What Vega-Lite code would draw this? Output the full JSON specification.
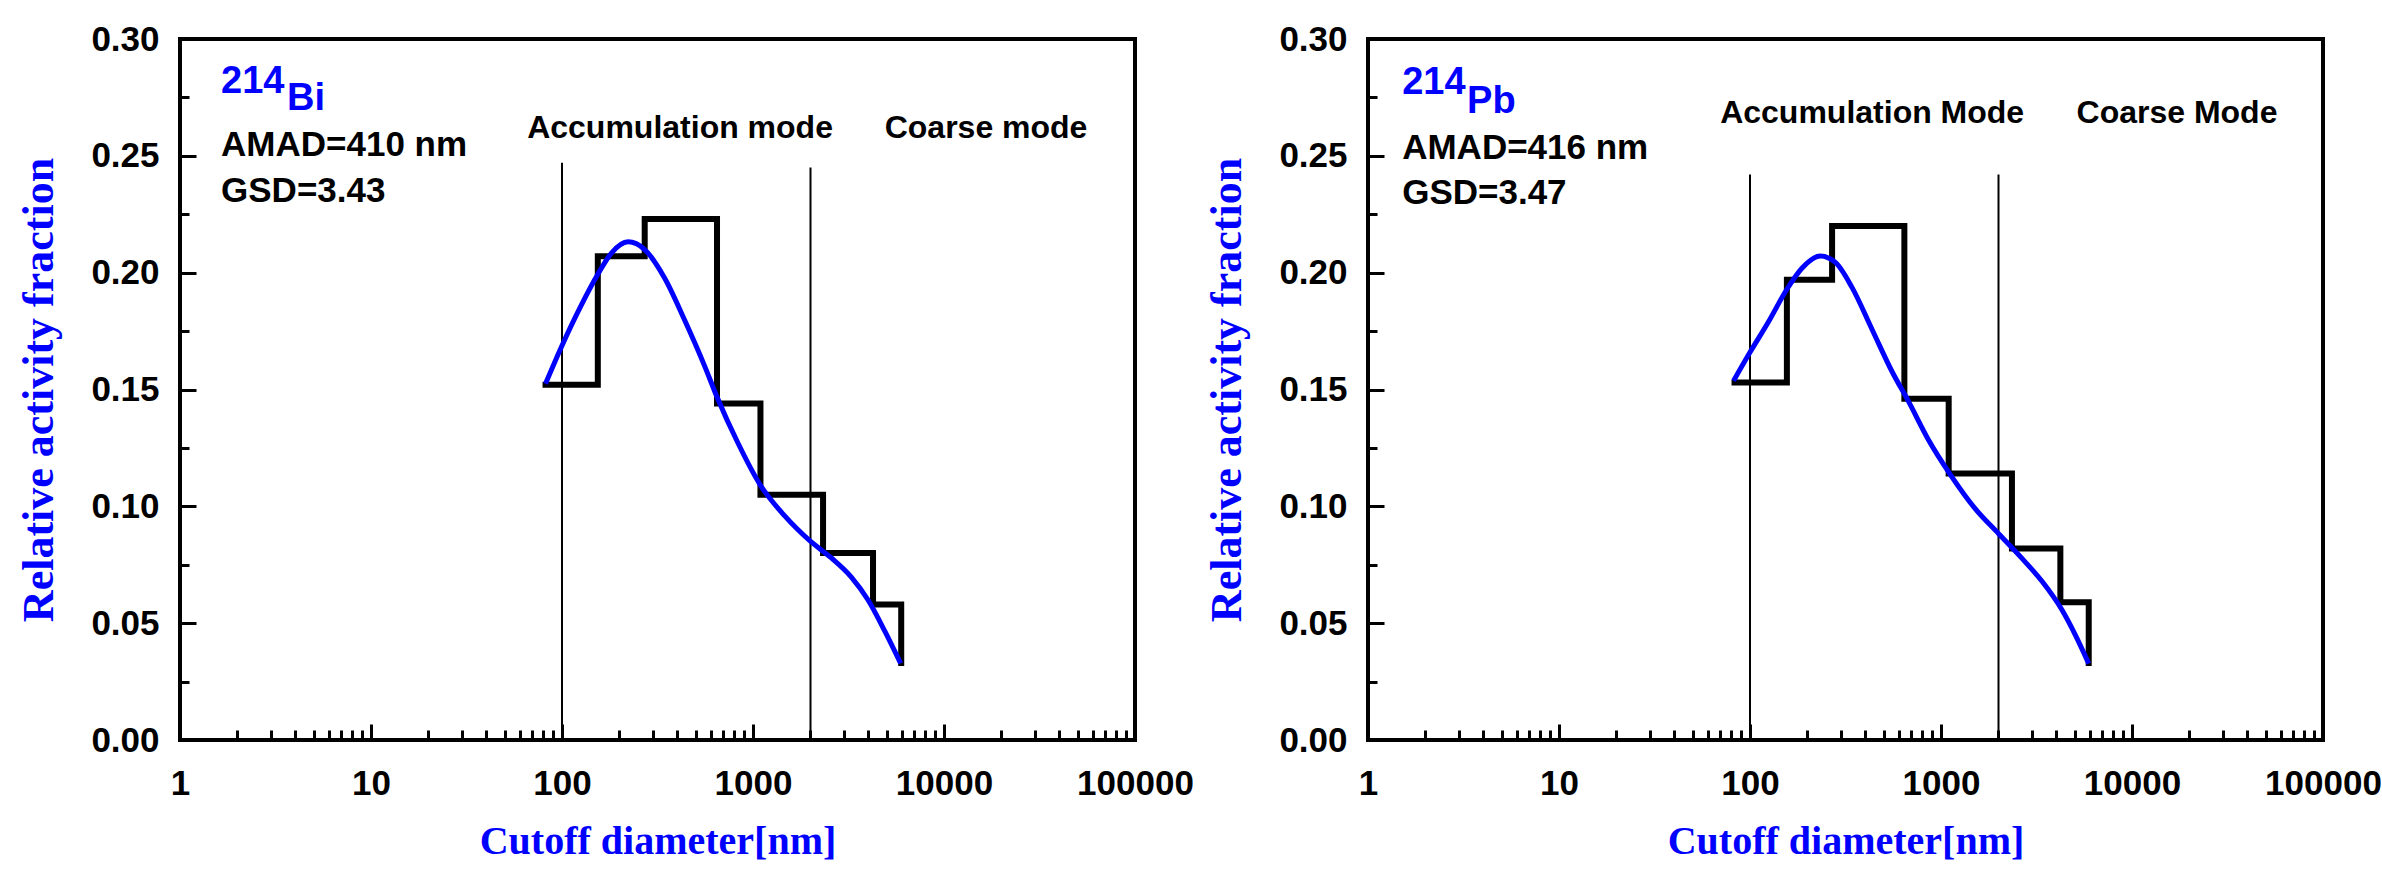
{
  "$schema": "https://vega.github.io/schema/vega-lite/v6.json",
  "padding": {"left": 15, "top": 20, "right": 5, "bottom": 5},
  "background": "white",
  "config": {
    "view": {"stroke": "black", "strokeWidth": 4},
    "axis": {"domain": false, "grid": false, "labelFont": "Liberation Sans", "labelFontWeight": "bold", "labelFontSize": 35, "labelColor": "black", "tickColor": "black", "tickWidth": 3, "titleFont": "Liberation Serif", "titleFontWeight": "bold", "titleColor": "#0000FF", "labelFlush": false, "labelOverlap": false, "labelBound": false},
    "text": {"font": "Liberation Sans", "fontWeight": "bold"}
  },
  "datasets": {
    "vl_bi": [{"x": 100, "y": 0, "y2": 0.247}, {"x": 2000, "y": 0, "y2": 0.245}],
    "step_bi": [{"x": 82, "y": 0.152}, {"x": 154, "y": 0.207}, {"x": 271, "y": 0.223}, {"x": 648, "y": 0.144}, {"x": 1094, "y": 0.105}, {"x": 2327, "y": 0.08}, {"x": 4250, "y": 0.058}, {"x": 5970, "y": 0.033}],
    "fit_bi": [{"x": 82, "y": 0.1525}, {"x": 99, "y": 0.168}, {"x": 126, "y": 0.186}, {"x": 154, "y": 0.1993}, {"x": 181, "y": 0.2083}, {"x": 222, "y": 0.2132}, {"x": 271, "y": 0.2099}, {"x": 345, "y": 0.1976}, {"x": 439, "y": 0.1796}, {"x": 559, "y": 0.1599}, {"x": 648, "y": 0.1468}, {"x": 834, "y": 0.1271}, {"x": 1094, "y": 0.109}, {"x": 1466, "y": 0.0959}, {"x": 1982, "y": 0.0853}, {"x": 2572, "y": 0.0779}, {"x": 3271, "y": 0.0697}, {"x": 4003, "y": 0.0599}, {"x": 4891, "y": 0.0467}, {"x": 5929, "y": 0.0328}],
    "iso_bi": [{"x": 1.64, "y": 0.2769, "label": "214"}, {"x": 3.63, "y": 0.2696, "label": "Bi"}],
    "info_bi": [{"x": 1.64, "y": 0.2499, "label": "AMAD=410 nm"}, {"x": 1.64, "y": 0.2302, "label": "GSD=3.43"}],
    "mode_bi": [{"x": 415, "y": 0.2576, "label": "Accumulation mode"}, {"x": 16600, "y": 0.2576, "label": "Coarse mode"}],
    "vl_pb": [{"x": 100, "y": 0, "y2": 0.242}, {"x": 2000, "y": 0, "y2": 0.242}],
    "step_pb": [{"x": 83, "y": 0.153}, {"x": 156, "y": 0.197}, {"x": 269, "y": 0.22}, {"x": 643, "y": 0.146}, {"x": 1097, "y": 0.114}, {"x": 2352, "y": 0.082}, {"x": 4216, "y": 0.059}, {"x": 5935, "y": 0.033}],
    "fit_pb": [{"x": 82, "y": 0.1537}, {"x": 100, "y": 0.1659}, {"x": 125, "y": 0.179}, {"x": 156, "y": 0.1929}, {"x": 187, "y": 0.2019}, {"x": 233, "y": 0.2071}, {"x": 280, "y": 0.2044}, {"x": 342, "y": 0.1937}, {"x": 435, "y": 0.1758}, {"x": 554, "y": 0.1577}, {"x": 678, "y": 0.1447}, {"x": 862, "y": 0.1283}, {"x": 1119, "y": 0.1136}, {"x": 1513, "y": 0.0989}, {"x": 2003, "y": 0.0883}, {"x": 2655, "y": 0.0777}, {"x": 3380, "y": 0.0679}, {"x": 4303, "y": 0.0556}, {"x": 5046, "y": 0.045}, {"x": 5935, "y": 0.0327}],
    "iso_pb": [{"x": 1.51, "y": 0.2765, "label": "214"}, {"x": 3.3, "y": 0.2683, "label": "Pb"}],
    "info_pb": [{"x": 1.51, "y": 0.2486, "label": "AMAD=416 nm"}, {"x": 1.51, "y": 0.2294, "label": "GSD=3.47"}],
    "mode_pb": [{"x": 436, "y": 0.264, "label": "Accumulation Mode"}, {"x": 17200, "y": 0.264, "label": "Coarse Mode"}]
  },
  "spacing": 7,
  "hconcat": [
    {
      "width": 955, "height": 701,
      "layer": [
        {"data": {"name": "vl_bi"}, "mark": {"type": "rule", "stroke": "black", "strokeWidth": 2},
         "encoding": {
           "x": {"field": "x", "type": "quantitative", "scale": {"type": "log", "domain": [1, 100000]},
                 "axis": {"title": "Cutoff diameter[nm]", "titleFontSize": 40, "values": [1,2,3,4,5,6,7,8,9,10,20,30,40,50,60,70,80,90,100,200,300,400,500,600,700,800,900,1000,2000,3000,4000,5000,6000,7000,8000,9000,10000,20000,30000,40000,50000,60000,70000,80000,90000,100000],
                          "labelExpr": "indexof([1,10,100,1000,10000,100000], datum.value) >= 0 ? format(datum.value, 'd') : ''",
                          "tickSize": {"condition": {"test": "indexof([1,10,100,1000,10000,100000], datum.value) >= 0", "value": -16}, "value": -10},
                          "labelPadding": 42, "titlePadding": 14}},
           "y": {"field": "y", "type": "quantitative", "scale": {"domain": [0, 0.3]},
                 "axis": {"title": "Relative activity fraction", "titleFontSize": 44, "values": [0,0.025,0.05,0.075,0.1,0.125,0.15,0.175,0.2,0.225,0.25,0.275,0.3],
                          "labelExpr": "round(datum.value*1000) % 50 == 0 ? format(datum.value, '.2f') : ''",
                          "tickSize": {"condition": {"test": "round(datum.value*1000) % 50 == 0", "value": -16}, "value": -9},
                          "labelPadding": 37, "titlePadding": 29}},
           "y2": {"field": "y2"}}},
        {"data": {"name": "step_bi"}, "mark": {"type": "line", "interpolate": "step-after", "stroke": "black", "strokeWidth": 6, "strokeJoin": "miter", "strokeCap": "square"},
         "encoding": {"x": {"field": "x", "type": "quantitative"}, "y": {"field": "y", "type": "quantitative"}}},
        {"data": {"name": "fit_bi"}, "mark": {"type": "line", "interpolate": "monotone", "stroke": "#0000FF", "strokeWidth": 5},
         "encoding": {"x": {"field": "x", "type": "quantitative"}, "y": {"field": "y", "type": "quantitative"}}},
        {"data": {"name": "iso_bi"}, "mark": {"type": "text", "align": "left", "baseline": "alphabetic", "fontSize": 38, "color": "#0000FF"},
         "encoding": {"x": {"field": "x", "type": "quantitative"}, "y": {"field": "y", "type": "quantitative"}, "text": {"field": "label"}}},
        {"data": {"name": "info_bi"}, "mark": {"type": "text", "align": "left", "baseline": "alphabetic", "fontSize": 35, "color": "black"},
         "encoding": {"x": {"field": "x", "type": "quantitative"}, "y": {"field": "y", "type": "quantitative"}, "text": {"field": "label"}}},
        {"data": {"name": "mode_bi"}, "mark": {"type": "text", "align": "center", "baseline": "alphabetic", "fontSize": 32, "color": "black"},
         "encoding": {"x": {"field": "x", "type": "quantitative"}, "y": {"field": "y", "type": "quantitative"}, "text": {"field": "label"}}}
      ]
    },
    {
      "width": 955, "height": 701,
      "layer": [
        {"data": {"name": "vl_pb"}, "mark": {"type": "rule", "stroke": "black", "strokeWidth": 2},
         "encoding": {
           "x": {"field": "x", "type": "quantitative", "scale": {"type": "log", "domain": [1, 100000]},
                 "axis": {"title": "Cutoff diameter[nm]", "titleFontSize": 40, "values": [1,2,3,4,5,6,7,8,9,10,20,30,40,50,60,70,80,90,100,200,300,400,500,600,700,800,900,1000,2000,3000,4000,5000,6000,7000,8000,9000,10000,20000,30000,40000,50000,60000,70000,80000,90000,100000],
                          "labelExpr": "indexof([1,10,100,1000,10000,100000], datum.value) >= 0 ? format(datum.value, 'd') : ''",
                          "tickSize": {"condition": {"test": "indexof([1,10,100,1000,10000,100000], datum.value) >= 0", "value": -16}, "value": -10},
                          "labelPadding": 42, "titlePadding": 14}},
           "y": {"field": "y", "type": "quantitative", "scale": {"domain": [0, 0.3]},
                 "axis": {"title": "Relative activity fraction", "titleFontSize": 44, "values": [0,0.025,0.05,0.075,0.1,0.125,0.15,0.175,0.2,0.225,0.25,0.275,0.3],
                          "labelExpr": "round(datum.value*1000) % 50 == 0 ? format(datum.value, '.2f') : ''",
                          "tickSize": {"condition": {"test": "round(datum.value*1000) % 50 == 0", "value": -16}, "value": -9},
                          "labelPadding": 37, "titlePadding": 29}},
           "y2": {"field": "y2"}}},
        {"data": {"name": "step_pb"}, "mark": {"type": "line", "interpolate": "step-after", "stroke": "black", "strokeWidth": 6, "strokeJoin": "miter", "strokeCap": "square"},
         "encoding": {"x": {"field": "x", "type": "quantitative"}, "y": {"field": "y", "type": "quantitative"}}},
        {"data": {"name": "fit_pb"}, "mark": {"type": "line", "interpolate": "monotone", "stroke": "#0000FF", "strokeWidth": 5},
         "encoding": {"x": {"field": "x", "type": "quantitative"}, "y": {"field": "y", "type": "quantitative"}}},
        {"data": {"name": "iso_pb"}, "mark": {"type": "text", "align": "left", "baseline": "alphabetic", "fontSize": 38, "color": "#0000FF"},
         "encoding": {"x": {"field": "x", "type": "quantitative"}, "y": {"field": "y", "type": "quantitative"}, "text": {"field": "label"}}},
        {"data": {"name": "info_pb"}, "mark": {"type": "text", "align": "left", "baseline": "alphabetic", "fontSize": 35, "color": "black"},
         "encoding": {"x": {"field": "x", "type": "quantitative"}, "y": {"field": "y", "type": "quantitative"}, "text": {"field": "label"}}},
        {"data": {"name": "mode_pb"}, "mark": {"type": "text", "align": "center", "baseline": "alphabetic", "fontSize": 32, "color": "black"},
         "encoding": {"x": {"field": "x", "type": "quantitative"}, "y": {"field": "y", "type": "quantitative"}, "text": {"field": "label"}}}
      ]
    }
  ]
}
